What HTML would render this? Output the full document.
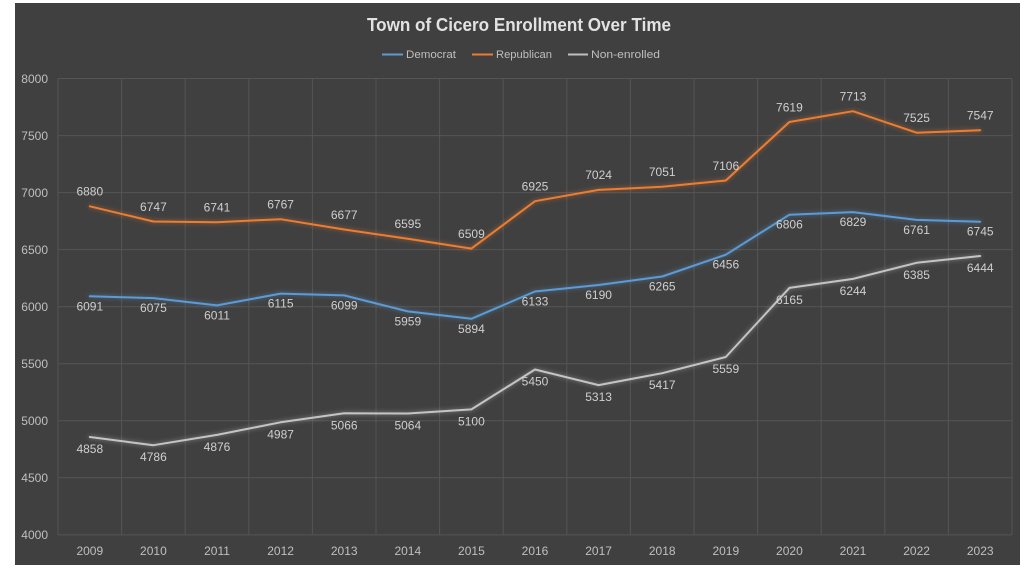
<!DOCTYPE html>
<html>
<head>
<meta charset="utf-8">
<style>
  html,body{margin:0;padding:0;background:#ffffff;}
  svg{display:block;}
  text{font-family:"Liberation Sans",sans-serif;}
</style>
</head>
<body>
<svg width="1024" height="576" viewBox="0 0 1024 576" xmlns="http://www.w3.org/2000/svg">
  <defs>
    <filter id="glowB" x="-10%" y="-50%" width="120%" height="200%">
      <feGaussianBlur in="SourceGraphic" stdDeviation="2.5" result="b"/>
      <feComponentTransfer in="b" result="bf"><feFuncA type="linear" slope="0.6"/></feComponentTransfer>
      <feMerge><feMergeNode in="bf"/><feMergeNode in="SourceGraphic"/></feMerge>
    </filter>
  </defs>
  <rect x="0" y="0" width="1024" height="576" fill="#ffffff"/>
  <rect x="15" y="3" width="1005" height="562" fill="#404040"/>

  <!-- gridlines -->
  <g stroke="#555555" stroke-width="1">
    <line x1="58" y1="78.5" x2="1012" y2="78.5"/>
    <line x1="58" y1="135.6" x2="1012" y2="135.6"/>
    <line x1="58" y1="192.6" x2="1012" y2="192.6"/>
    <line x1="58" y1="249.6" x2="1012" y2="249.6"/>
    <line x1="58" y1="306.7" x2="1012" y2="306.7"/>
    <line x1="58" y1="363.7" x2="1012" y2="363.7"/>
    <line x1="58" y1="420.8" x2="1012" y2="420.8"/>
    <line x1="58" y1="477.8" x2="1012" y2="477.8"/>
    <line x1="58" y1="534.9" x2="1012" y2="534.9"/>
    <line x1="58" y1="78.5" x2="58" y2="534.9"/>
    <line x1="121.6" y1="78.5" x2="121.6" y2="534.9"/>
    <line x1="185.2" y1="78.5" x2="185.2" y2="534.9"/>
    <line x1="248.8" y1="78.5" x2="248.8" y2="534.9"/>
    <line x1="312.4" y1="78.5" x2="312.4" y2="534.9"/>
    <line x1="376" y1="78.5" x2="376" y2="534.9"/>
    <line x1="439.6" y1="78.5" x2="439.6" y2="534.9"/>
    <line x1="503.2" y1="78.5" x2="503.2" y2="534.9"/>
    <line x1="566.8" y1="78.5" x2="566.8" y2="534.9"/>
    <line x1="630.4" y1="78.5" x2="630.4" y2="534.9"/>
    <line x1="694" y1="78.5" x2="694" y2="534.9"/>
    <line x1="757.6" y1="78.5" x2="757.6" y2="534.9"/>
    <line x1="821.2" y1="78.5" x2="821.2" y2="534.9"/>
    <line x1="884.8" y1="78.5" x2="884.8" y2="534.9"/>
    <line x1="948.4" y1="78.5" x2="948.4" y2="534.9"/>
    <line x1="1012" y1="78.5" x2="1012" y2="534.9"/>
  </g>

  <!-- title -->
  <text x="367" y="31" font-size="18" font-weight="bold" fill="#e2e2e2" textLength="304" lengthAdjust="spacingAndGlyphs">Town of Cicero Enrollment Over Time</text>

  <!-- legend -->
  <line x1="382" y1="54.5" x2="403" y2="54.5" stroke="#5b9bd5" stroke-width="2"/>
  <text x="406" y="58" font-size="11" fill="#bfbfbf" textLength="50" lengthAdjust="spacingAndGlyphs">Democrat</text>
  <line x1="472" y1="54.5" x2="493" y2="54.5" stroke="#ed7d31" stroke-width="2"/>
  <text x="496" y="58" font-size="11" fill="#bfbfbf" textLength="56" lengthAdjust="spacingAndGlyphs">Republican</text>
  <line x1="568" y1="54.5" x2="588" y2="54.5" stroke="#bfbfbf" stroke-width="2"/>
  <text x="591" y="58" font-size="11" fill="#bfbfbf" textLength="69" lengthAdjust="spacingAndGlyphs">Non-enrolled</text>

  <!-- y axis labels -->
  <g font-size="12" fill="#bfbfbf" text-anchor="end">
    <text x="48" y="83">8000</text>
    <text x="48" y="140">7500</text>
    <text x="48" y="197">7000</text>
    <text x="48" y="254">6500</text>
    <text x="48" y="311">6000</text>
    <text x="48" y="368">5500</text>
    <text x="48" y="425">5000</text>
    <text x="48" y="482">4500</text>
    <text x="48" y="539">4000</text>
  </g>

  <!-- x axis labels -->
  <g font-size="12" fill="#bfbfbf" text-anchor="middle">
    <text x="89.8" y="555">2009</text>
    <text x="153.4" y="555">2010</text>
    <text x="217" y="555">2011</text>
    <text x="280.6" y="555">2012</text>
    <text x="344.2" y="555">2013</text>
    <text x="407.8" y="555">2014</text>
    <text x="471.4" y="555">2015</text>
    <text x="535" y="555">2016</text>
    <text x="598.6" y="555">2017</text>
    <text x="662.2" y="555">2018</text>
    <text x="725.8" y="555">2019</text>
    <text x="789.4" y="555">2020</text>
    <text x="853" y="555">2021</text>
    <text x="916.6" y="555">2022</text>
    <text x="980.2" y="555">2023</text>
  </g>

  <!-- series -->
  <g fill="none" stroke-width="2" stroke-linejoin="round" stroke-linecap="round" filter="url(#glowB)">
    <polyline stroke="#ed7d31" points="89.8,206.3 153.4,221.5 217,222.2 280.6,219.2 344.2,229.5 407.8,238.8 471.4,248.6 535,201.2 598.6,189.9 662.2,186.8 725.8,180.5 789.4,122 853,111.2 916.6,132.7 980.2,130.2"/>
    <polyline stroke="#5b9bd5" points="89.8,296.3 153.4,298.1 217,305.4 280.6,293.6 344.2,295.4 407.8,311.4 471.4,318.8 535,291.5 598.6,285 662.2,276.5 725.8,254.7 789.4,214.7 853,212.1 916.6,219.9 980.2,221.7"/>
    <polyline stroke="#c4c4c4" points="89.8,437 153.4,445.2 217,434.9 280.6,422.3 344.2,413.3 407.8,413.5 471.4,409.4 535,369.5 598.6,385.1 662.2,373.2 725.8,357 789.4,287.9 853,278.9 916.6,262.8 980.2,256"/>
  </g>

  <!-- data labels -->
  <g font-size="12" fill="#cfcfcf" text-anchor="middle">
    <!-- Republican (above) -->
    <text x="89.8" y="195.6">6880</text>
    <text x="153.4" y="210.8">6747</text>
    <text x="217" y="211.5">6741</text>
    <text x="280.6" y="208.5">6767</text>
    <text x="344.2" y="218.8">6677</text>
    <text x="407.8" y="228.1">6595</text>
    <text x="471.4" y="237.9">6509</text>
    <text x="535" y="190.5">6925</text>
    <text x="598.6" y="179.2">7024</text>
    <text x="662.2" y="176.1">7051</text>
    <text x="725.8" y="169.8">7106</text>
    <text x="789.4" y="111.3">7619</text>
    <text x="853" y="100.5">7713</text>
    <text x="916.6" y="122">7525</text>
    <text x="980.2" y="119.5">7547</text>
    <!-- Democrat (below) -->
    <text x="89.8" y="310.3">6091</text>
    <text x="153.4" y="312.1">6075</text>
    <text x="217" y="319.4">6011</text>
    <text x="280.6" y="307.6">6115</text>
    <text x="344.2" y="309.4">6099</text>
    <text x="407.8" y="325.4">5959</text>
    <text x="471.4" y="332.8">5894</text>
    <text x="535" y="305.5">6133</text>
    <text x="598.6" y="299">6190</text>
    <text x="662.2" y="290.5">6265</text>
    <text x="725.8" y="268.7">6456</text>
    <text x="789.4" y="228.7">6806</text>
    <text x="853" y="226.1">6829</text>
    <text x="916.6" y="233.9">6761</text>
    <text x="980.2" y="235.7">6745</text>
    <!-- Non-enrolled (below) -->
    <text x="89.8" y="453">4858</text>
    <text x="153.4" y="461.2">4786</text>
    <text x="217" y="450.9">4876</text>
    <text x="280.6" y="438.3">4987</text>
    <text x="344.2" y="429.3">5066</text>
    <text x="407.8" y="429.5">5064</text>
    <text x="471.4" y="425.4">5100</text>
    <text x="535" y="385.5">5450</text>
    <text x="598.6" y="401.1">5313</text>
    <text x="662.2" y="389.2">5417</text>
    <text x="725.8" y="373">5559</text>
    <text x="789.4" y="303.9">6165</text>
    <text x="853" y="294.9">6244</text>
    <text x="916.6" y="278.8">6385</text>
    <text x="980.2" y="272">6444</text>
  </g>
</svg>
</body>
</html>
